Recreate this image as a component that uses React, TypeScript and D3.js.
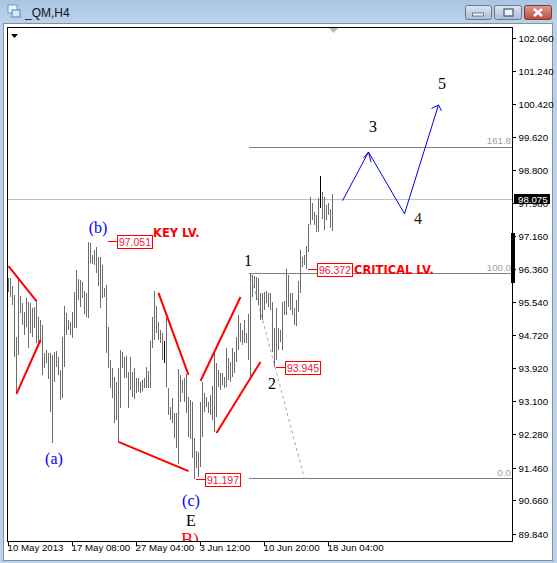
import React from "react";
import { scaleLinear, line } from "d3";

const width = 557;
const height = 563;
const plotLeft = 7.5;
const plotRight = 512.5;
const plotTop = 27.5;
const plotBottom = 541.5;

// high / low of every H4 bar
const highs = [
  96.15, 96.15, 95.95, 95.73, 94.69, 96.15, 95.7, 95.53, 95.31, 95.65, 95.56, 95.53, 95.41, 95.43, 95.61, 95.19, 95.12, 94.99, 94.3, 94.38,
  94.3, 94.3, 94.25, 94.33, 94.35, 94.2, 93.88, 94.69, 95.46, 95.29, 95.12, 95.07, 95.31, 95.8, 96.35, 96.12, 96.1, 96.05, 95.83, 95.78,
  97.03, 97.01, 96.72, 96.84, 96.91, 96.67, 96.67, 96.47, 95.9, 95.98, 94.95, 94.13, 93.93, 93.71, 93.59, 93.93, 94.38, 94.33, 94.2, 94.23,
  93.83, 94.2, 93.83, 93.93, 93.69, 93.69, 93.59, 93.64, 93.69, 93.96, 93.86, 94.6, 95.19, 95.83, 95.46, 95.07, 94.87, 94.79, 94.6, 95.17,
  93.44, 92.97, 93.19, 92.82, 92.82, 93.91, 93.76, 93.64, 93.69, 93.78, 93.21, 93.14, 93.09, 92.21, 91.89, 91.86, 93.09, 93.59, 93.32, 93.21,
  93.09, 93.27, 93.49, 94.33, 94.06, 93.88, 93.81, 93.81, 93.71, 94.42, 94.18, 94.08, 94.42, 94.33, 94.69, 95.24, 95.04, 94.87, 95.12, 94.79,
  95.26, 96.27, 96.22, 96.2, 96.17, 96.15, 95.78, 95.78, 95.8, 95.83, 95.78, 95.78, 95.56, 94.92, 95.41, 94.92, 94.87, 95.56, 95.58, 96.37,
  96.22, 95.78, 95.78, 95.41, 95.61, 96.07, 96.84, 96.67, 96.72, 96.94, 97.48, 98.14, 98.0, 97.77, 97.7, 98.12, 98.66, 98.27, 98.14, 97.95,
  98.0, 97.85, 98.22,
];
const lows = [
  95.8, 95.68, 95.48, 94.2, 93.29, 94.25, 95.29, 94.99, 94.75, 94.95, 94.42, 94.79, 94.69, 94.92, 94.55, 94.45, 94.55, 93.76, 93.93, 94.06,
  93.66, 92.85, 92.09, 93.59, 93.96, 93.76, 93.14, 93.19, 93.96, 94.75, 94.87, 94.75, 94.67, 94.92, 94.92, 95.61, 95.43, 95.65, 95.26, 95.19,
  95.17, 96.52, 96.49, 96.47, 96.27, 95.95, 95.41, 95.65, 95.68, 94.3, 93.93, 93.44, 93.19, 92.58, 92.65, 92.11, 92.95, 93.93, 93.69, 93.69,
  92.95, 93.39, 93.21, 93.17, 93.32, 93.34, 93.32, 93.37, 93.44, 93.44, 93.44, 93.44, 94.42, 94.62, 94.79, 94.62, 94.55, 94.13, 94.06, 93.47,
  92.78, 92.65, 92.58, 92.21, 91.96, 91.57, 93.09, 93.32, 93.09, 92.82, 92.23, 92.18, 91.72, 91.2, 91.47, 91.25, 91.49, 92.23, 92.85, 92.97,
  92.82, 92.78, 92.65, 92.36, 92.73, 93.47, 93.39, 93.51, 93.44, 93.47, 93.64, 93.59, 93.71, 93.81, 94.08, 94.38, 94.57, 94.5, 94.55, 94.55,
  94.13, 93.69, 95.68, 95.9, 95.61, 95.48, 95.12, 95.12, 95.36, 95.53, 95.43, 95.36, 94.33, 93.96, 94.13, 94.38, 94.57, 94.38, 95.24, 95.24,
  95.43, 95.36, 95.24, 94.99, 94.97, 95.31, 95.78, 96.42, 96.47, 96.37, 96.79, 97.45, 97.58, 97.45, 97.28, 97.28, 97.87, 97.6, 97.33, 97.58,
  97.7, 97.38, 97.31,
];
const blackBars = [78, 156];

const priceTicks = [102.06, 101.24, 100.42, 99.62, 98.8, 97.98, 97.16, 96.36, 95.54, 94.72, 93.92, 93.1, 92.28, 91.46, 90.66, 89.84];
const timeTicks = [0, 32, 64, 96, 128, 160];
const timeLabels = ["10 May 2013", "17 May 08:00", "27 May 04:00", "3 Jun 12:00", "10 Jun 20:00", "18 Jun 04:00"];

const lastPrice = 98.075;
const fibLow = 91.197;
const fibHigh = 96.247;
const fibLevels = [1.618, 1, 0];
const fibLabels = ["161.8", "100.0", "0.0"];

// [bar index, price] pairs
const redLines = [
  [[0, 96.44], [14, 95.58]],
  [[4, 93.29], [16, 94.62]],
  [[55, 92.11], [90, 91.39]],
  [[75, 95.78], [90, 93.76]],
  [[96, 93.61], [116, 95.68]],
  [[104, 92.33], [126, 94.08]],
];
const blueWave = [[167, 98.05], [180, 99.25], [198, 97.73], [215, 100.41]];
const fibDiagonal = [[121, 96.247], [148, 91.197]];
const priceMarks = [97.051, 96.372, 93.945, 91.197];
const priceMarkBars = [49.5, 149.5, 133.5, 93.5];

const xScale = scaleLinear().domain([0, 1]).range([8.5, 10.5]);
const yScale = scaleLinear().domain([102.06, 89.84]).range([38, 534]);
const pathLine = line<number[]>()
  .x((d) => xScale(d[0]))
  .y((d) => yScale(d[1]));

const serif = "'Liberation Serif', serif";
const sans = "'Liberation Sans', sans-serif";

function WaveLabel({ x, y, text, color = "#000", size = 16 }: any) {
  return (
    <text x={x} y={y} textAnchor="middle" fontFamily={serif} fontSize={size} fill={color}>
      {text}
    </text>
  );
}

function App() {
  const fibY = (l: number) => yScale(fibLow + (fibHigh - fibLow) * l);
  const waveEnd = blueWave[3];
  const waveTop = blueWave[1];

  return (
    <div style={{ position: "fixed", left: 0, top: 0 }}>
      <svg width={width} height={height} style={{ display: "block" }}>
        <defs>
          <linearGradient id="title" x1="0" x2="0" y1="0" y2="1">
            <stop offset="0" stopColor="#a9c5e2" />
            <stop offset="1" stopColor="#bcd4ec" />
          </linearGradient>
          <linearGradient id="btn" x1="0" x2="0" y1="0" y2="1">
            <stop offset="0" stopColor="#dde7f2" />
            <stop offset="1" stopColor="#a9bdd4" />
          </linearGradient>
          <linearGradient id="close" x1="0" x2="0" y1="0" y2="1">
            <stop offset="0" stopColor="#dd9c92" />
            <stop offset="1" stopColor="#bb4a3e" />
          </linearGradient>
          <clipPath id="plot">
            <rect x={plotLeft} y={plotTop} width={plotRight - plotLeft} height={plotBottom - plotTop} />
          </clipPath>
        </defs>

        {/* window frame */}
        <rect width={width} height={height} fill="#b9d1ea" />
        <rect width={width} height={24} fill="url(#title)" />
        <rect x={3.5} y={23.5} width={549} height={537} fill="#fff" stroke="#8a8f96" />
        <rect x={8} y={5} width={9} height={8} fill="#eef4fb" stroke="#6f9ac8" />
        <rect x={12} y={10} width={8} height={7} fill="#dbe8f6" stroke="#4f86c0" />
        <text x={25} y={17} fontFamily={sans} fontSize={12} fill="#111">_QM,H4</text>
        <rect x={465.5} y={5.5} width={26} height={14} rx={2} fill="url(#btn)" stroke="#66788c" />
        <rect x={472.5} y={13} width={11} height={3} fill="#eef3f8" stroke="#45566a" strokeWidth={0.7} />
        <rect x={494.5} y={5.5} width={27} height={14} rx={2} fill="url(#btn)" stroke="#66788c" />
        <rect x={504} y={9} width={9} height={7} fill="#eef3f8" stroke="#45566a" strokeWidth={1.2} />
        <rect x={524.5} y={5.5} width={27} height={14} rx={2} fill="url(#close)" stroke="#7a3a34" />
        <path d="M534,9L542,16M542,9L534,16" stroke="#fff" strokeWidth={2.4} />

        {/* price and time axes */}
        {priceTicks.map((t) => (
          <g key={t}>
            <line x1={plotRight} x2={plotRight + 3} y1={yScale(t)} y2={yScale(t)} stroke="#000" shapeRendering="crispEdges" />
            <text x={518.5} y={yScale(t) + 3.5} fontFamily={sans} fontSize={9.7} fill="#000">{t.toFixed(3)}</text>
          </g>
        ))}
        {timeTicks.map((t, i) => (
          <g key={t}>
            <line x1={xScale(t)} x2={xScale(t)} y1={plotBottom} y2={plotBottom + 4} stroke="#000" shapeRendering="crispEdges" />
            <text x={xScale(t) - 1} y={551} fontFamily={sans} fontSize={9.7} fill="#000">{timeLabels[i]}</text>
          </g>
        ))}

        <g clipPath="url(#plot)">
          <line x1={plotLeft} x2={plotRight} y1={yScale(lastPrice)} y2={yScale(lastPrice)} stroke="#c0c0c0" shapeRendering="crispEdges" />

          {/* fibo */}
          {fibLevels.map((l, i) => (
            <g key={l}>
              <line x1={xScale(120)} x2={plotRight} y1={fibY(l)} y2={fibY(l)} stroke="#808080" shapeRendering="crispEdges" />
              <text x={511} y={fibY(l) - 3} textAnchor="end" fontFamily={sans} fontSize={9.7} fill="#a0a0a0">{fibLabels[i]}</text>
            </g>
          ))}
          <path d={pathLine(fibDiagonal) ?? ""} fill="none" stroke="#a8a8a8" strokeDasharray="3 3" />

          {/* bars */}
          {highs.map((h, i) => (
            <line
              key={i}
              x1={xScale(i)}
              x2={xScale(i)}
              y1={yScale(h)}
              y2={yScale(lows[i])}
              stroke={blackBars.includes(i) ? "#000" : "#6c6c6c"}
              shapeRendering="crispEdges"
            />
          ))}

          {/* trend lines */}
          {redLines.map((d, i) => (
            <path key={i} d={pathLine(d) ?? ""} fill="none" stroke="#f00" strokeWidth={2} />
          ))}

          {/* projected waves */}
          <path d={pathLine(blueWave) ?? ""} fill="none" stroke="#0000f0" strokeWidth={1} />
          <path
            d={`M${xScale(waveEnd[0]) - 7},${yScale(waveEnd[1]) + 3.5}L${xScale(waveEnd[0])},${yScale(waveEnd[1])}L${xScale(waveEnd[0]) + 3},${yScale(waveEnd[1]) + 6}`}
            fill="none"
            stroke="#0000f0"
          />
          <path
            d={`M${xScale(waveTop[0]) - 5},${yScale(waveTop[1]) + 6}L${xScale(waveTop[0])},${yScale(waveTop[1])}L${xScale(waveTop[0]) + 2.5},${yScale(waveTop[1]) + 10}`}
            fill="none"
            stroke="#0000f0"
          />

          {/* price marks */}
          {priceMarks.map((p, i) => {
            const bx = xScale(priceMarkBars[i]);
            const by = Math.round(yScale(p)) + 0.5;
            return (
              <g key={p}>
                <line x1={bx} x2={bx + 10} y1={by} y2={by} stroke="#f00" shapeRendering="crispEdges" />
                <rect x={bx + 10} y={by - 6} width={35} height={13} fill="#fff" stroke="#f00" shapeRendering="crispEdges" />
                <text x={bx + 27.5} y={by + 4} textAnchor="middle" fontFamily={sans} fontSize={10.5} fill="#f02040">{p.toFixed(3)}</text>
              </g>
            );
          })}

          <text x={153} y={237} fontFamily="'DejaVu Sans', sans-serif" fontWeight="bold" fontSize={11.5} fill="#f00">KEY LV.</text>
          <text x={354} y={274} fontFamily="'DejaVu Sans', sans-serif" fontWeight="bold" fontSize={11.5} fill="#f00">CRITICAL LV.</text>

          <WaveLabel x={98} y={233} text="(b)" color="#0000ff" />
          <WaveLabel x={54} y={464} text="(a)" color="#0000ff" />
          <WaveLabel x={191} y={506} text="(c)" color="#0000ff" />
          <WaveLabel x={191} y={526} text="E" />
          <WaveLabel x={190} y={546} text="B)" color="#f00" size={18} />
          <WaveLabel x={248} y={266} text="1" />
          <WaveLabel x={272} y={389} text="2" />
          <WaveLabel x={373} y={132} text="3" />
          <WaveLabel x={418} y={224} text="4" color="#2a1a00" />
          <WaveLabel x={442} y={89} text="5" />
        </g>

        {/* current price tag and plot frame */}
        <rect x={plotLeft} y={plotTop} width={plotRight - plotLeft} height={plotBottom - plotTop} fill="none" stroke="#000" shapeRendering="crispEdges" />
        <rect x={511} y={233} width={4} height={50} fill="#000" />
        <rect x={514} y={194} width={36} height={10} fill="#000" />
        <text x={518} y={203} fontFamily={sans} fontSize={9.7} fill="#fff">{lastPrice.toFixed(3)}</text>
        <path d="M11,34L18,34L14.5,38Z" fill="#000" />
        <path d="M329,28L338,28L333.5,33Z" fill="#b8b8b8" />
      </svg>
    </div>
  );
}

export default App;
